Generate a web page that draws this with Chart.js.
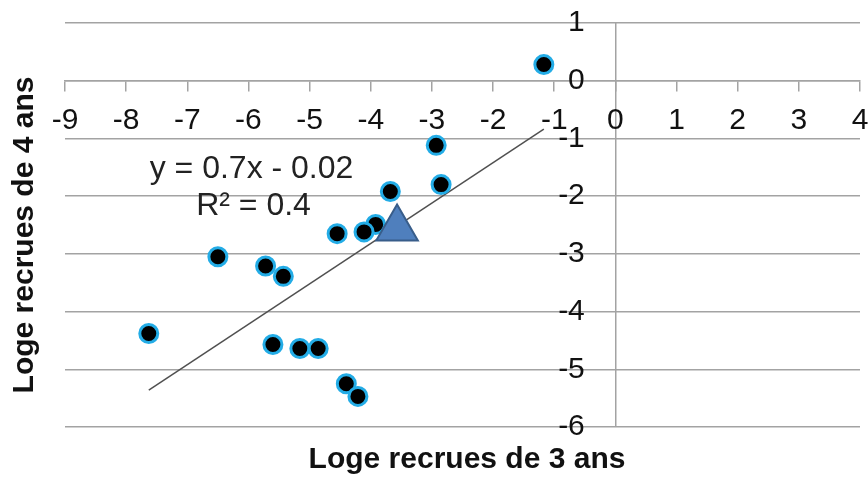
<!DOCTYPE html>
<html lang="fr">
<head>
<meta charset="utf-8">
<title>Loge recrues de 3 ans / 4 ans</title>
<script src="https://cdn.jsdelivr.net/npm/chart.js@4/dist/chart.umd.min.js"></script>
<style>
  html, body { margin: 0; padding: 0; background: #fff; }
  #wrap { width: 868px; height: 481px; }
</style>
</head>
<body>
<div id="wrap"><canvas id="chart" width="868" height="481"></canvas></div>
<script>
// Log-recruitment at age 3 (x) against log-recruitment at age 4 (y), one point per year class
const recruits3 = [-1.17, -2.93, -2.85, -3.68, -3.92, -4.11, -4.55, -6.50, -5.72, -5.43, -7.63, -5.60, -5.16, -4.86, -4.40, -4.21];
const recruits4 = [0.28, -1.12, -1.80, -1.92, -2.49, -2.62, -2.65, -3.05, -3.21, -3.39, -4.38, -4.57, -4.64, -4.64, -5.25, -5.47];

// Year class used as prediction (triangle)
const predicted3 = [-3.57];
const predicted4 = [-2.56];

// Linear fit
const fitSlope = 0.7;
const fitIntercept = -0.02;
const fitR2 = 0.4;

// Axis ranges / tick step
const xRange = [-9, 4];
const yRange = [-6, 1];
const tickStep = 1;

const xTitle = 'Loge recrues de 3 ans';
const yTitle = 'Loge recrues de 4 ans';

const GRID = '#a3a3a3';
const FONT = "'Liberation Sans', Arial, Helvetica, sans-serif";

const points = recruits3.map((x, i) => ({ x, y: recruits4[i] }));
const predicted = predicted3.map((x, i) => ({ x, y: predicted4[i] }));
const fitX = [Math.min(...recruits3), Math.max(...recruits3)];
const fitLine = fitX.map(x => ({ x, y: fitSlope * x + fitIntercept }));

const fmt = v => String(v);
const eqText = 'y = ' + fmt(fitSlope) + 'x ' + (fitIntercept < 0 ? '- ' : '+ ') + fmt(Math.abs(fitIntercept));
const r2Text = 'R\u00B2 = ' + fmt(fitR2);

// Where the fit equation is written, in data units
const eqAnchor = { x: -5.95, y: -1.53, y2: -2.18 };

const zeroSize = scale => {
  if (scale.isHorizontal()) scale.height = 0; else scale.width = 0;
  scale.paddingLeft = scale.paddingRight = scale.paddingTop = scale.paddingBottom = 0;
};

const textLayer = {
  id: 'textLayer',
  afterDraw(chart) {
    const { ctx, scales: { x, y } } = chart;
    ctx.save();
    ctx.textAlign = 'center';
    ctx.textBaseline = 'middle';

    // fit equation
    ctx.font = '32px ' + FONT;
    ctx.fillStyle = '#222';
    ctx.fillText(eqText, x.getPixelForValue(eqAnchor.x), y.getPixelForValue(eqAnchor.y));
    ctx.fillText(r2Text, x.getPixelForValue(eqAnchor.x) + 2, y.getPixelForValue(eqAnchor.y2));

    // axis titles
    ctx.fillStyle = '#111';
    ctx.font = 'bold 30px ' + FONT;
    ctx.fillText(xTitle, 467, 459.5);
    ctx.translate(25, 235);
    ctx.rotate(-Math.PI / 2);
    ctx.fillText(yTitle, 0, 0);
    ctx.restore();
  }
};

new Chart(document.getElementById('chart'), {
  type: 'scatter',
  data: {
    datasets: [
      {
        label: 'predicted',
        data: predicted,
        pointStyle: 'triangle',
        pointRadius: 24,
        pointHoverRadius: 24,
        backgroundColor: '#4f7fbd',
        borderColor: '#385d8a',
        borderWidth: 2
      },
      {
        label: 'recrues',
        data: points,
        pointRadius: 9,
        pointHoverRadius: 9,
        backgroundColor: '#000',
        borderColor: '#23ace6',
        borderWidth: 3
      },
      {
        label: 'fit',
        data: fitLine,
        showLine: true,
        pointRadius: 0,
        borderColor: '#505050',
        borderWidth: 1.5,
        fill: false
      }
    ]
  },
  options: {
    responsive: false,
    devicePixelRatio: 1,
    animation: false,
    events: [],
    layout: { autoPadding: false, padding: { left: 65, right: 8, top: 23, bottom: 54 } },
    plugins: {
      legend: { display: false },
      tooltip: { enabled: false },
      title: { display: false }
    },
    scales: {
      x: {
        type: 'linear',
        position: { y: 0 },
        min: xRange[0],
        max: xRange[1],
        afterFit: zeroSize,
        ticks: {
          stepSize: tickStep,
          autoSkip: false,
          maxRotation: 0,
          padding: 12,
          color: '#111',
          font: { family: FONT, size: 30 }
        },
        grid: {
          drawOnChartArea: true,
          drawTicks: true,
          tickLength: 10,
          tickColor: GRID,
          tickWidth: 1.5,
          lineWidth: 1.5,
          color: c => (c.tick && c.tick.value === 0 ? GRID : 'rgba(0,0,0,0)')
        },
        border: { display: true, color: GRID, width: 1.5 }
      },
      y: {
        type: 'linear',
        position: { x: -0.5 },
        min: yRange[0],
        max: yRange[1],
        afterFit: zeroSize,
        ticks: {
          stepSize: tickStep,
          autoSkip: false,
          color: '#111',
          font: { family: FONT, size: 30 }
        },
        grid: {
          drawOnChartArea: true,
          drawTicks: false,
          color: GRID,
          lineWidth: 1.5
        },
        border: { display: false }
      }
    }
  },
  plugins: [textLayer]
});
</script>
</body>
</html>
